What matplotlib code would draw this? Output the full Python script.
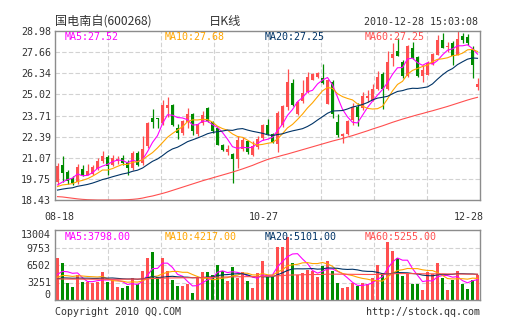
import numpy as np
import pandas as pd
import matplotlib
matplotlib.use("Agg")
import matplotlib.pyplot as plt

# daily candles 08-18 .. 12-28
opens = [19.55, 20.63, 20.18, 19.80, 19.55, 20.36, 20.01, 20.07, 20.38, 20.84,
         21.11, 20.63, 20.84, 21.05, 20.80, 20.43, 21.36, 20.74, 21.78, 23.57,
         23.52, 23.24, 24.17, 24.34, 22.90, 22.63, 23.30, 23.80, 22.55, 23.24,
         24.17, 23.28, 22.93, 21.88, 21.42, 21.30, 21.01, 21.60, 22.09, 21.26,
         21.72, 22.30, 23.09, 22.53, 21.93, 23.11, 24.26, 25.75, 23.80, 24.58,
         25.15, 25.95, 26.09, 26.03, 24.45, 25.82, 23.32, 22.45, 22.55, 23.43,
         24.21, 24.15, 24.80, 24.70, 25.36, 26.27, 25.34, 27.30, 27.75, 27.02,
         26.15, 27.92, 27.36, 26.15, 26.25, 26.92, 27.50, 28.44, 27.98, 28.23,
         27.50, 28.65, 28.58, 27.88, 25.50]
highs = [20.74, 21.15, 20.32, 19.90, 20.68, 20.63, 20.68, 20.60, 21.05, 21.51,
         21.26, 21.22, 21.20, 21.26, 20.95, 21.47, 21.47, 22.40, 23.30, 24.10,
         23.58, 24.70, 24.88, 24.40, 23.20, 23.42, 24.20, 23.85, 23.20, 24.00,
         24.25, 23.34, 22.95, 21.90, 21.88, 21.36, 22.40, 22.35, 22.12, 22.10,
         22.45, 23.20, 23.50, 22.60, 24.01, 24.36, 26.59, 26.00, 24.58, 25.90,
         26.40, 26.35, 26.45, 26.95, 26.00, 25.92, 23.80, 22.60, 23.40, 24.46,
         24.46, 25.20, 25.30, 25.70, 26.50, 26.42, 27.75, 28.20, 28.54, 27.20,
         28.08, 28.29, 27.40, 26.88, 27.09, 27.60, 28.75, 28.85, 28.29, 28.33,
         28.98, 28.85, 28.79, 28.02, 26.05]
lows = [19.39, 19.55, 19.43, 19.39, 19.43, 19.90, 19.97, 19.97, 20.32, 20.74,
        19.97, 20.53, 20.70, 20.63, 19.97, 20.32, 20.53, 20.63, 21.68, 22.90,
        22.92, 23.10, 23.63, 23.03, 22.25, 22.50, 22.90, 22.50, 22.40, 23.10,
        23.30, 22.60, 21.84, 21.47, 21.26, 19.49, 20.45, 21.50, 21.30, 21.15,
        21.60, 22.20, 22.50, 21.97, 21.45, 23.00, 24.05, 24.28, 23.76, 24.50,
        25.10, 25.90, 26.05, 25.70, 24.40, 23.53, 22.38, 22.00, 22.50, 23.10,
        23.05, 24.05, 24.57, 24.60, 25.30, 24.10, 25.30, 26.80, 27.40, 26.05,
        26.09, 27.25, 26.10, 25.80, 26.21, 26.88, 27.46, 27.92, 27.67, 26.84,
        27.46, 28.23, 28.08, 26.05, 25.32]
closes = [20.57, 20.11, 19.64, 19.49, 20.47, 20.01, 20.22, 20.47, 20.84, 21.20,
          20.53, 21.05, 21.00, 20.74, 20.43, 21.36, 20.59, 21.61, 23.24, 23.32,
          23.48, 24.34, 24.38, 23.09, 22.60, 23.35, 23.80, 22.72, 23.17, 23.72,
          23.34, 22.72, 21.88, 21.57, 21.63, 20.99, 22.20, 22.20, 21.43, 21.78,
          22.24, 23.09, 22.55, 22.07, 23.84, 24.30, 25.82, 24.36, 24.52, 25.12,
          26.10, 26.28, 26.35, 25.75, 25.90, 23.80, 22.49, 22.53, 23.37, 24.21,
          23.60, 24.90, 24.95, 25.35, 26.09, 25.34, 27.05, 27.55, 27.40, 26.15,
          28.02, 27.30, 26.15, 26.57, 26.98, 27.54, 28.44, 27.92, 28.02, 27.40,
          28.50, 28.44, 28.23, 26.84, 25.67]
volumes = [7865, 6936, 3220, 2477, 4645, 3406, 3406, 3097, 3406, 5264,
           3406, 3716, 2477, 2168, 2663, 4149, 2911, 5388, 7742, 8980,
           4335, 7742, 5450, 3716, 2601, 2601, 2911, 1239, 4026, 5264,
           5264, 4645, 6503, 5450, 3592, 6070, 4026, 5264, 3592, 2291,
           5078, 7246, 4335, 4335, 9909, 9909, 11767, 6813, 4645, 4955,
           5574, 5450, 4335, 6317, 7246, 5450, 3220, 2168, 2477, 3097,
           2601, 3220, 2911, 4026, 6503, 4955, 10715, 9104, 7742, 4459,
           4955, 2911, 2911, 1858, 5264, 4769, 6813, 4026, 1858, 3716,
           5326, 3034, 2044, 3778, 4706]

# days before 08-18 are not shown; estimated so the short MAs start where the chart's do
prev_closes = [18.9, 18.7, 18.8, 18.6, 18.9, 19.0, 18.8, 18.7, 18.9, 19.0,
               19.1, 19.3, 19.0, 19.2, 19.25, 19.2, 18.9, 19.0, 19.18]
prev_volumes = [3600, 3900, 3300, 4100, 3700, 3400, 3800, 3500, 4000, 3600,
                3300, 3900, 3700, 3500, 3800, 4200, 3600, 3900, 4300]

# MA60 lines
ma60_price = [18.64, 18.62, 18.58, 18.54, 18.50, 18.47, 18.45, 18.44, 18.43, 18.43,
              18.43, 18.43, 18.43, 18.44, 18.45, 18.47, 18.50, 18.55, 18.62, 18.68,
              18.76, 18.84, 18.93, 19.03, 19.13, 19.23, 19.33, 19.43, 19.53, 19.63,
              19.72, 19.81, 19.90, 19.99, 20.08, 20.17, 20.27, 20.37, 20.48, 20.59,
              20.72, 20.84, 20.96, 21.05, 21.13, 21.22, 21.30, 21.39, 21.48, 21.57,
              21.66, 21.75, 21.84, 21.93, 22.02, 22.11, 22.19, 22.27, 22.36, 22.45,
              22.55, 22.65, 22.75, 22.86, 22.96, 23.06, 23.17, 23.28, 23.38, 23.48,
              23.57, 23.66, 23.75, 23.83, 23.92, 24.00, 24.09, 24.18, 24.27, 24.37,
              24.47, 24.57, 24.67, 24.76, 24.84]
ma60_volume = [3900, 3900, 3890, 3880, 3880, 3870, 3870, 3860, 3860, 3860,
               3850, 3850, 3850, 3860, 3870, 3880, 3890, 3910, 3940, 3980,
               4010, 4050, 4080, 4100, 4110, 4120, 4130, 4130, 4140, 4160,
               4180, 4200, 4230, 4260, 4280, 4300, 4310, 4330, 4340, 4350,
               4370, 4400, 4420, 4440, 4490, 4540, 4610, 4650, 4670, 4690,
               4710, 4730, 4740, 4760, 4790, 4800, 4800, 4790, 4780, 4770,
               4760, 4750, 4740, 4740, 4750, 4760, 4820, 4870, 4900, 4910,
               4910, 4900, 4890, 4870, 4870, 4860, 4870, 4860, 4840, 4830,
               4830, 4820, 4810, 4800, 4800]

price_ticks = ["18.43", "19.75", "21.07", "22.39", "23.71", "25.02", "26.34", "27.66", "28.98"]
volume_ticks = ["0", "3251", "6502", "9753", "13004"]
date_labels = ["08-18", "10-27", "12-28"]
date_pos = [0.4, 41.3, 82.2]

price_legend = ["MA5:27.52", "MA10:27.68", "MA20:27.25", "MA60:27.25"]
volume_legend = ["MA5:3798.00", "MA10:4217.00", "MA20:5101.00", "MA60:5255.00"]

UP, DOWN = "#ff4f4f", "#008c00"
MA_COLORS = ["#ff00ff", "#ffa500", "#003366", "#ff4f4f"]
GRID = "#d2d2d2"
FRAME = "#8c8c8c"
TEXT = "#333333"
MONO = "DejaVu Sans Mono"
CJK = ["Noto Sans CJK SC", "DejaVu Sans"]

W, H = 505, 330


def fx(px):
    return px / W


def fy(py):
    return 1 - py / H


n = len(closes)
x = np.arange(n)
o = np.array(opens)
c = np.array(closes)
up = c >= o
colors = np.where(up, UP, DOWN)

all_c = pd.Series(prev_closes + closes)
all_v = pd.Series(prev_volumes + volumes)
k = len(prev_closes)
price_mas = [all_c.rolling(w).mean().values[k:] for w in (5, 10, 20)] + [np.array(ma60_price)]
vol_mas = [all_v.rolling(w).mean().values[k:] for w in (5, 10, 20)] + [np.array(ma60_volume)]

fig = plt.figure(figsize=(W / 100, H / 100), dpi=100)
ax = fig.add_axes([fx(55), fy(200), 425 / W, 169 / H])
axv = fig.add_axes([fx(55), fy(300), 425 / W, 70 / H])

vgrid = np.linspace(-0.5, n - 0.5, 9)[1:-1]

# price panel
ax.vlines(x, lows, highs, colors=colors, linewidth=0.9, zorder=3)
body = np.maximum(np.abs(c - o), 0.04)
ax.bar(x, body, bottom=np.minimum(o, c), width=0.62, color=colors, zorder=4)
for ma, col in zip(price_mas, MA_COLORS):
    ax.plot(x, ma, color=col, linewidth=0.8, zorder=5)

pt = np.linspace(18.43, 28.98, len(price_ticks))
ax.set_xlim(-0.5, n - 0.5)
ax.set_ylim(pt[0], pt[-1])
ax.set_yticks(pt)
ax.set_yticklabels(price_ticks)
ax.set_xticks(date_pos)
ax.set_xticklabels(date_labels)
for v in pt[1:-1]:
    ax.axhline(v, color=GRID, linewidth=0.8, linestyle=(0, (4, 2)), zorder=1)
for v in vgrid:
    ax.axvline(v, color=GRID, linewidth=0.8, linestyle=(0, (4, 2)), zorder=1)
ax.tick_params(axis="y", length=0, pad=3, labelsize=7.2, labelcolor=TEXT)
ax.tick_params(axis="x", length=0, pad=9, labelsize=7.2, labelcolor=TEXT)

# volume panel
axv.bar(x, volumes, width=0.72, color=colors, zorder=3)
for ma, col in zip(vol_mas, MA_COLORS):
    axv.plot(x, ma, color=col, linewidth=0.8, zorder=4)
vt = np.linspace(0, 13004, len(volume_ticks))
axv.set_xlim(-0.5, n - 0.5)
axv.set_ylim(vt[0], vt[-1])
axv.set_yticks(vt)
axv.set_yticklabels(volume_ticks)
axv.set_xticks([])
for v in vt[1:-1]:
    axv.axhline(v, color=GRID, linewidth=0.8, linestyle=(0, (4, 2)), zorder=1)
for v in vgrid:
    axv.axvline(v, color=GRID, linewidth=0.8, linestyle=(0, (4, 2)), zorder=1)
axv.tick_params(axis="y", length=0, pad=3, labelsize=7.2, labelcolor=TEXT)
ylabels = axv.get_yticklabels()
ylabels[0].set_verticalalignment("bottom")
ylabels[-1].set_verticalalignment("top")

for a in (ax, axv):
    for lab in a.get_xticklabels() + a.get_yticklabels():
        lab.set_fontfamily(MONO)
    for s in a.spines.values():
        s.set_color(FRAME)
        s.set_linewidth(1.0)
        s.set_zorder(6)

# MA readouts inside the panels
for i, (t1, t2, col) in enumerate(zip(price_legend, volume_legend, MA_COLORS)):
    fig.text(fx(65 + 100 * i), fy(36.5), t1, color=col, fontsize=7.2,
             family=MONO, ha="left", va="center")
    fig.text(fx(65 + 100 * i), fy(237.5), t2, color=col, fontsize=7.2,
             family=MONO, ha="left", va="center")

# header and footer
fig.text(fx(55), fy(22), "国电南自(600268)", family=CJK, fontsize=8.7,
         color=TEXT, ha="left", va="center")
fig.text(fx(225), fy(22), "日K线", family=CJK, fontsize=8.8,
         color=TEXT, ha="center", va="center")
fig.text(fx(478), fy(22), "2010-12-28 15:03:08", family=MONO, fontsize=7.2,
         color=TEXT, ha="right", va="center")
fig.text(fx(55), fy(312), "Copyright 2010 QQ.COM", family=MONO, fontsize=7.2,
         color=TEXT, ha="left", va="center")
fig.text(fx(480), fy(312), "http://stock.qq.com", family=MONO, fontsize=7.2,
         color=TEXT, ha="right", va="center")

fig.savefig("out.png", dpi=100, facecolor="white")
